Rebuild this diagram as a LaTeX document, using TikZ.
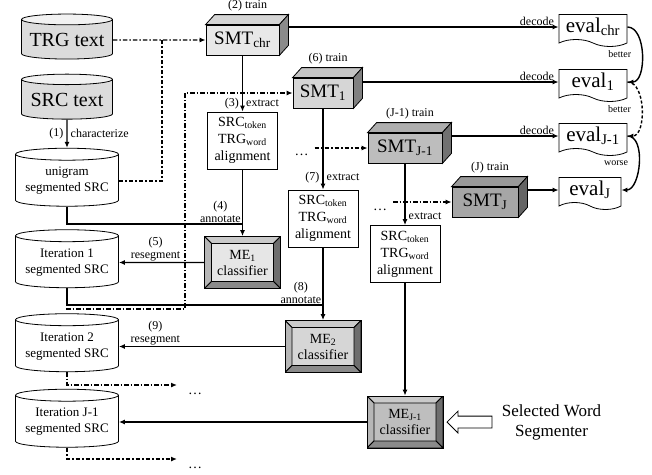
\documentclass[tikz,border=0pt]{standalone}
\usepackage{fontspec}
\setmainfont{Liberation Serif}
\usetikzlibrary{arrows.meta,positioning,shapes.geometric,shapes.symbols,shapes.arrows}
\definecolor{CylTop}{HTML}{F2F2F2}
\definecolor{CylBody}{HTML}{DCDCDC}
\definecolor{SmtChrFace}{HTML}{E8E8E8}
\definecolor{SmtOneFace}{HTML}{D6D6D6}
\definecolor{SmtJoneFace}{HTML}{BDBDBD}
\definecolor{SmtJFace}{HTML}{A6A6A6}
\definecolor{MeOneFace}{HTML}{E6E6E6}
\definecolor{MeTwoFace}{HTML}{D6D6D6}
\definecolor{MeJoneFace}{HTML}{BEBEBE}
\definecolor{BevelTop}{HTML}{CACACA}
\definecolor{BevelLeft}{HTML}{B6B6B6}
\definecolor{BevelRight}{HTML}{6E6E6E}
\definecolor{BevelBottom}{HTML}{8A8A8A}
\newcommand\ppb{path picture bounding box}

\begin{document}
\begin{tikzpicture}[
	x=1pt, y=-1pt,
	db/.style={
		cylinder,
		shape border rotate=90,
		aspect=0.14,
		draw,
		line width=0.8pt,
		fill=white,
		minimum width=103pt,
		minimum height=58pt,
		align=center,
		inner sep=1pt,
		font=\fontsize{13pt}{16pt}\selectfont
	},
	corpus/.style={
		cylinder,
		shape border rotate=90,
		aspect=0.14,
		draw,
		line width=0.8pt,
		cylinder uses custom fill,
		cylinder body fill=CylBody,
		cylinder end fill=CylTop,
		minimum width=91pt,
		minimum height=45pt,
		inner sep=1pt,
		font=\fontsize{20pt}{22pt}\selectfont
	},
	smtbox/.style={
		draw,
		line width=0.8pt,
		fill=#1,
		minimum height=30pt,
		inner sep=1pt,
		font=\fontsize{19pt}{21pt}\selectfont
	},
	face/.style={line width=0.8pt},
	alignbox/.style={
		draw,
		line width=0.8pt,
		fill=white,
		minimum width=70pt,
		minimum height=57pt,
		align=center,
		inner sep=1pt,
		font=\fontsize{14pt}{17pt}\selectfont
	},
	mebox/.style={
		draw,
		line width=0.8pt,
		fill=#1,
		minimum width=76pt,
		minimum height=52pt,
		align=center,
		inner sep=1pt,
		font=\fontsize{14pt}{16pt}\selectfont,
		path picture={
			\draw[fill=BevelTop] (\ppb.north west) -- (\ppb.north east) -- ([shift={(-7pt,-7pt)}]\ppb.north east) -- ([shift={(7pt,-7pt)}]\ppb.north west) -- cycle;
			\draw[fill=BevelLeft] (\ppb.north west) -- ([shift={(7pt,-7pt)}]\ppb.north west) -- ([shift={(7pt,7pt)}]\ppb.south west) -- (\ppb.south west) -- cycle;
			\draw[fill=BevelRight] (\ppb.north east) -- ([shift={(-7pt,-7pt)}]\ppb.north east) -- ([shift={(-7pt,7pt)}]\ppb.south east) -- (\ppb.south east) -- cycle;
			\draw[fill=BevelBottom] (\ppb.south west) -- (\ppb.south east) -- ([shift={(-7pt,7pt)}]\ppb.south east) -- ([shift={(7pt,7pt)}]\ppb.south west) -- cycle;
		}
	},
	evaldoc/.style={
		tape,
		tape bend top=none,
		tape bend bottom=out and in,
		tape bend height=7pt,
		draw,
		line width=0.8pt,
		fill=white,
		minimum width=68pt,
		minimum height=32pt,
		inner sep=1pt,
		font=\fontsize{21pt}{23pt}\selectfont
	},
	lbl/.style={font=\fontsize{12pt}{13pt}\selectfont, inner sep=1pt},
	cmp/.style={font=\fontsize{10pt}{11pt}\selectfont, inner sep=1pt},
	dotlbl/.style={font=\fontsize{14pt}{15pt}\selectfont, inner sep=0pt},
	flow/.style={-{Latex[length=6pt,width=5pt]}, line width=1.4pt},
	link/.style={line width=1.4pt},
	dflow/.style={-{Latex[length=6pt,width=5pt]}, line width=1.3pt, dash pattern=on 4.5pt off 2pt on 1.5pt off 2pt},
	dlink/.style={line width=1.3pt, dash pattern=on 4.5pt off 2pt on 1.5pt off 2pt}
]
\useasboundingbox (0,0) rectangle (652,474);

% corpora
\node[corpus] (trgtext) at (67,40) {TRG text};
\node[corpus] (srctext) at (67,100) {SRC text};
\node[db] (unigram) at (67,181) {unigram\\segmented SRC};
\node[db] (iter1) at (67,262.5) {Iteration 1\\segmented SRC};
\node[db] (iter2) at (67,346.5) {Iteration 2\\segmented SRC};
\node[db] (iterj1) at (67,422) {Iteration J-1\\segmented SRC};

% translation systems
\node[smtbox=SmtChrFace, minimum width=73pt] (smtchr) at (242.5,40) {SMT\textsubscript{chr}};
\node[smtbox=SmtOneFace, minimum width=60pt] (smt1) at (323,93) {SMT\textsubscript{1}};
\node[smtbox=SmtJoneFace, minimum width=74pt] (smtj1) at (405,148) {SMT\textsubscript{J-1}};
\node[smtbox=SmtJFace, minimum width=66pt] (smtj) at (485,202) {SMT\textsubscript{J}};

\draw[face, fill=SmtChrFace!92!black] (smtchr.north west) -- ([shift={(9pt,10pt)}]smtchr.north west) -- ([shift={(9pt,10pt)}]smtchr.north east) -- (smtchr.north east) -- cycle;
\draw[face, fill=SmtChrFace!60!black] (smtchr.north east) -- ([shift={(9pt,10pt)}]smtchr.north east) -- ([shift={(9pt,10pt)}]smtchr.south east) -- (smtchr.south east) -- cycle;
\draw[face, fill=SmtOneFace!92!black] (smt1.north west) -- ([shift={(9pt,10pt)}]smt1.north west) -- ([shift={(9pt,10pt)}]smt1.north east) -- (smt1.north east) -- cycle;
\draw[face, fill=SmtOneFace!60!black] (smt1.north east) -- ([shift={(9pt,10pt)}]smt1.north east) -- ([shift={(9pt,10pt)}]smt1.south east) -- (smt1.south east) -- cycle;
\draw[face, fill=SmtJoneFace!92!black] (smtj1.north west) -- ([shift={(9pt,10pt)}]smtj1.north west) -- ([shift={(9pt,10pt)}]smtj1.north east) -- (smtj1.north east) -- cycle;
\draw[face, fill=SmtJoneFace!60!black] (smtj1.north east) -- ([shift={(9pt,10pt)}]smtj1.north east) -- ([shift={(9pt,10pt)}]smtj1.south east) -- (smtj1.south east) -- cycle;
\draw[face, fill=SmtJFace!92!black] (smtj.north west) -- ([shift={(9pt,10pt)}]smtj.north west) -- ([shift={(9pt,10pt)}]smtj.north east) -- (smtj.north east) -- cycle;
\draw[face, fill=SmtJFace!60!black] (smtj.north east) -- ([shift={(9pt,10pt)}]smtj.north east) -- ([shift={(9pt,10pt)}]smtj.south east) -- (smtj.south east) -- cycle;

\node[lbl, above=12.5pt of smtchr, xshift=5pt] (trainchr) {(2) train};
\node[lbl, above=12.5pt of smt1, xshift=5pt] (train1) {(6) train};
\node[lbl, above=12.5pt of smtj1, xshift=5pt] (trainj1) {(J-1) train};
\node[lbl, above=12.5pt of smtj, xshift=5pt] (trainj) {(J) train};

% alignments and classifiers
\node[alignbox] (align1) at (242.5,140.5) {SRC\textsubscript{token}\\TRG\textsubscript{word}\\alignment};
\node[alignbox] (align2) at (323,218.5) {SRC\textsubscript{token}\\TRG\textsubscript{word}\\alignment};
\node[alignbox] (align3) at (405,254) {SRC\textsubscript{token}\\TRG\textsubscript{word}\\alignment};

\node[mebox=MeOneFace] (me1) at (242.5,262.5) {ME\textsubscript{1}\\classifier};
\node[mebox=MeTwoFace] (me2) at (323,346.5) {ME\textsubscript{2}\\classifier};
\node[mebox=MeJoneFace] (mej1) at (405,422) {ME\textsubscript{J-1}\\classifier};

% evaluations
\node[evaldoc] (evalchr) at (593,27) {eval\textsubscript{chr}};
\node[evaldoc] (eval1) at (593,82) {eval\textsubscript{1}};
\node[evaldoc] (evalj1) at (593,136) {eval\textsubscript{J-1}};
\node[evaldoc, minimum width=62pt] (evalj) at (590,190) {eval\textsubscript{J}};

\node[single arrow, draw, line width=0.8pt, fill=white, shape border rotate=180, minimum height=45pt,
	inner sep=5.5pt, single arrow head extend=5pt] (selarrow) at (472.5,422) {};
\node[font=\fontsize{17pt}{20pt}\selectfont, align=center, right=6pt of selarrow] (selected) {Selected Word\\Segmenter};

\node[dotlbl, anchor=base] (dots1) at (301.5,155) {\dots};
\node[dotlbl, anchor=base] (dots2) at (380,210) {\dots};
\node[dotlbl, anchor=base] (dots3) at (195,394) {\dots};
\node[dotlbl, anchor=base] (dots4) at (195,468) {\dots};

\coordinate (jn1) at (162,40);
\coordinate (jn2) at (185,309);
\coordinate (ann1) at (242.5,224);
\coordinate (ann2) at (323,305);
\coordinate (more2) at (177,385);
\coordinate (more3) at (177,459);

% connectors
\draw[flow] (srctext) -- (unigram) node[lbl, midway, left=2pt] {(1)} node[lbl, midway, right=2pt] {characterize};
\draw[dflow] (trgtext) -- (smtchr);
\draw[dlink] (unigram.east) -| (jn1);
\draw[flow] (smtchr) -- (align1) node[lbl, pos=0.85, left=2pt] {(3)} node[lbl, pos=0.85, right=2pt] {extract};
\draw[link] (unigram.south) |- (ann1) node[lbl, above left, align=center] {(4)\\annotate};
\draw[flow] (align1) -- (me1);
\draw[flow] (me1) -- (iter1) node[lbl, pos=0.57, above, align=center] {(5)\\resegment};
\draw[dflow] (iter1.south) |- (jn2) |- (smt1.west);
\draw[link] (iter1.south) |- (ann2) node[lbl, above left, align=center] {(8)\\annotate};
\draw[flow] (smt1) -- (align2) node[lbl, pos=0.85, left=2pt] {(7)} node[lbl, pos=0.85, right=2pt] {extract};
\draw[flow] (align2) -- (me2);
\draw[flow] (me2) -- (iter2) node[lbl, pos=0.78, above, align=center] {(9)\\resegment};
\draw[dflow] (smtj1.west -| dots1.east) ++(6,0) -- (smtj1.west);
\draw[flow] (smtj1) -- (align3) node[lbl, pos=0.85, right=2pt] {extract};
\draw[flow] (align3) -- (mej1);
\draw[flow] (mej1) -- (iterj1);
\draw[dflow] (smtj.west -| dots2.east) ++(6,0) -- (smtj.west);
\draw[dflow] (iter2.south) |- (more2);
\draw[dflow] (iterj1.south) |- (more3);

\draw[flow] (evalchr.west -| smtchr.east) ++(9,0) -- (evalchr.west) node[lbl, pos=1, above left, xshift=-3pt] {decode};
\draw[flow] (eval1.west -| smt1.east) ++(9,0) -- (eval1.west) node[lbl, pos=1, above left, xshift=-3pt] {decode};
\draw[flow] (evalj1.west -| smtj1.east) ++(9,0) -- (evalj1.west) node[lbl, pos=1, above left, xshift=-3pt] {decode};
\draw[flow] (evalj.west -| smtj.east) ++(9,0) -- (evalj.west);

\draw[flow] (evalchr.east) to[out=0, in=0, looseness=0.9] node[cmp, midway, left=9pt] {better} (eval1.east);
\draw[flow, dash pattern=on 3pt off 2pt] (eval1.east) to[out=0, in=0, looseness=0.9] node[cmp, midway, left=9pt] {better} (evalj1.east);
\draw[flow] (evalj1.east) to[out=0, in=0, looseness=0.9] node[cmp, midway, left=9pt] {worse} (evalj.east);

\end{tikzpicture}
\end{document}
